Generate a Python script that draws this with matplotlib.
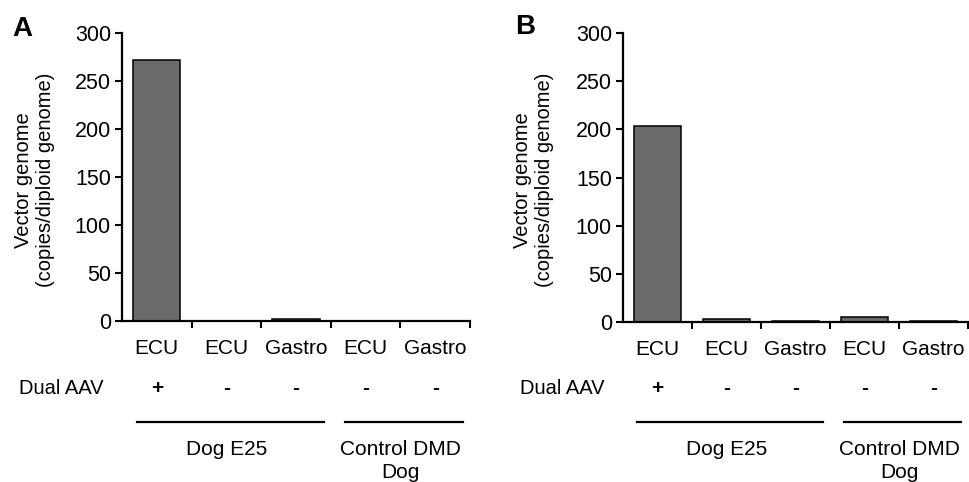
import matplotlib
matplotlib.use("Agg")
import matplotlib.pyplot as plt
from matplotlib.transforms import blended_transform_factory

plt.rcParams["font.family"] = ["Liberation Sans", "DejaVu Sans"]

tissues = ["ECU", "ECU", "Gastro", "ECU", "Gastro"]
dual_aav = ["+", "-", "-", "-", "-"]
groups = [("Dog E25", 0, 2), ("Control DMD\nDog", 3, 4)]
values_a = [272, 0.4, 1.8, 0.3, 0.3]
values_b = [203, 3, 1.5, 5.5, 1.5]
panel_letters = ["A", "B"]
ylabel = "Vector genome\n(copies/diploid genome)"

W, H = 969, 482
fig = plt.figure(figsize=(W / 100, H / 100), dpi=100)

# axes boxes in pixels: left, right, bottom(y from top), top(y from top)
boxes = [(122, 470, 321, 33), (623, 968, 322, 33)]
letter_pos = [(22, 29), (525, 27)]
ylabel_x = [35, 534]


def fy(py):
    return 1 - py / H


for i, (vals, box) in enumerate(zip([values_a, values_b], boxes)):
    l, r, b, t = box
    ax = fig.add_axes([l / W, fy(b), (r - l) / W, (b - t) / H])
    x = range(len(vals))
    ax.bar(x, vals, width=0.68, color="#6b6b6b", edgecolor="black", linewidth=1.1)
    ax.set_xlim(-0.5, len(vals) - 0.5)
    ax.set_ylim(0, 300)
    ax.set_yticks(range(0, 301, 50))
    ax.set_xticks(list(x))
    ax.set_xticklabels(tissues, fontsize=15)
    ax.set_xticks([k + 0.5 for k in x], minor=True)
    ax.tick_params(axis="x", which="major", length=0, pad=13)
    ax.tick_params(axis="x", which="minor", length=5, width=1.5, direction="out")
    ax.tick_params(axis="y", length=5, width=1.5, labelsize=15.5, pad=3)
    for s in ["top", "right"]:
        ax.spines[s].set_visible(False)
    for s in ["left", "bottom"]:
        ax.spines[s].set_linewidth(1.6)

    tr = blended_transform_factory(ax.transData, fig.transFigure)
    ax.text(-0.77, fy(388), "Dual AAV", transform=tr, ha="right", va="center",
            fontsize=14.5)
    for k, sign in enumerate(dual_aav):
        ax.text(k, fy(388), sign, transform=tr, ha="center", va="center",
                fontsize=15, fontweight="bold")
    for name, g0, g1 in groups:
        ax.plot([g0 - 0.29, g1 + 0.4], [fy(422), fy(422)], color="black",
                lw=1.6, transform=tr, clip_on=False)
        ax.text((g0 + g1) / 2, fy(440), name, transform=tr, ha="center",
                va="top", fontsize=15, linespacing=1.25)

    fig.text(ylabel_x[i] / W, fy(180), ylabel, rotation=90, ha="center",
             va="center", fontsize=14.5, linespacing=1.2)
    fig.text(letter_pos[i][0] / W, fy(letter_pos[i][1]), panel_letters[i],
             ha="center", va="center", fontsize=20, fontweight="bold")

fig.savefig("out.png", dpi=100)
